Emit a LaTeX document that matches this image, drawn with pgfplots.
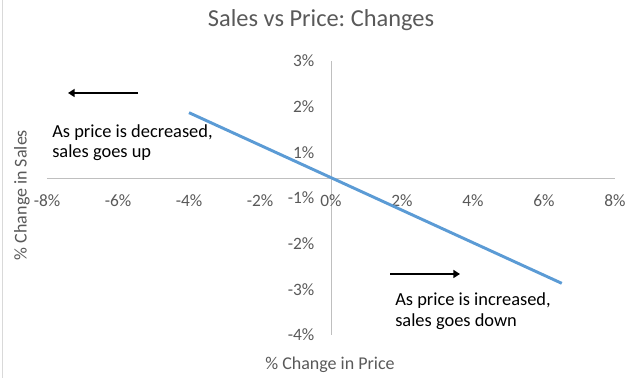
\documentclass[border=0pt]{standalone}
\usepackage{pgfplots}
\pgfplotsset{compat=1.18}
\usepackage{fontspec}
\setmainfont{Carlito}
\usetikzlibrary{arrows.meta}
\definecolor{txtgray}{RGB}{89,89,89}
\definecolor{axgray}{RGB}{191,191,191}
\definecolor{xlblue}{RGB}{91,155,213}
\frenchspacing
\begin{document}
\begin{tikzpicture}
\useasboundingbox (0,0) rectangle (481.5pt,283.5pt);
\draw[color={rgb,255:red,217;green,217;blue,217},line width=0.75pt] (1.5pt,0pt) -- (1.5pt,283.5pt);
\begin{axis}[
  at={(35.25pt,32.25pt)}, anchor=south west,
  scale only axis, width=426pt, height=205.5pt,
  xmin=-8, xmax=8, ymin=-4, ymax=3,
  axis lines=middle,
  axis line style={color=axgray, line width=0.75pt, -},
  major tick length=0pt,
  hide obscured x ticks=false,
  hide obscured y ticks=false,
  xtick={-8,-6,-4,-2,0,2,4,6,8},
  xticklabels={-8\%,-6\%,-4\%,-2\%,0\%,2\%,4\%,6\%,8\%},
  ytick={-4,-2.8333,-1.6667,-0.5,0.6667,1.8333,3},
  yticklabels={-4\%,-3\%,-2\%,-1\%,1\%,2\%,3\%},
  tick label style={font=\fontsize{13}{15}\selectfont, text=txtgray},
  xticklabel style={anchor=center, yshift=-16.5pt},
  yticklabel style={anchor=east, xshift=-9pt},
  clip=false,
]
\addplot[color=xlblue, line width=2.2pt] coordinates {(-4,1.68) (0,0.02) (6.5,-2.68)};
\end{axis}
\node[font=\fontsize{18.3}{21}\selectfont, text=txtgray] at (240.75pt,268.5pt) {Sales vs Price: Changes};
\node[font=\fontsize{13.5}{16}\selectfont, text=txtgray] at (247.5pt,9.75pt) {\% Change in Price};
\node[font=\fontsize{13.5}{16}\selectfont, text=txtgray, rotate=90] at (16.5pt,137.25pt) {\% Change in Sales};
\draw[line width=1.5pt, -{Triangle[length=5pt,width=6pt]}] (103.5pt,213.75pt) -- (51pt,213.75pt);
\draw[line width=1.5pt, -{Triangle[length=5pt,width=6pt]}] (292.5pt,78pt) -- (345pt,78pt);
\node[font=\fontsize{13.8}{15}\selectfont, align=left, anchor=west, inner sep=0pt] at (39pt,176.25pt) {As price is decreased,\\sales goes up};
\node[font=\fontsize{13.8}{15.5}\selectfont, align=left, anchor=west, inner sep=0pt] at (296.25pt,49.9pt) {As price is increased,\\sales goes down};
\end{tikzpicture}
\end{document}
